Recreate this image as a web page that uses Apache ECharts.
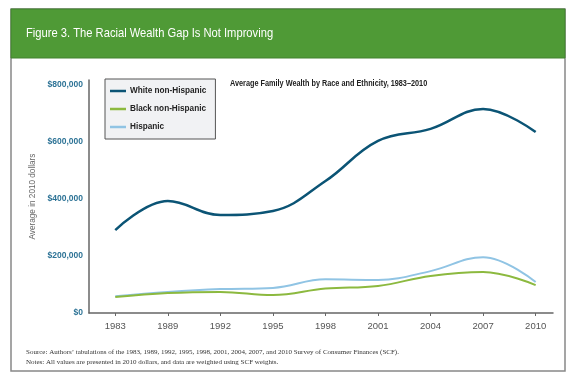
<!DOCTYPE html>
<html><head><meta charset="utf-8">
<script src="https://cdn.jsdelivr.net/npm/echarts@6/dist/echarts.min.js"></script>
<style>html,body{margin:0;padding:0;background:#fff}#c{width:585px;height:383px}</style>
</head><body><div id="c"></div>
<script>
var years = ['1983','1989','1992','1995','1998','2001','2004','2007','2010'];
var whiteNH = [291000, 393000, 344000, 358000, 463000, 604000, 646000, 716000, 635000];
var blackNH = [56000, 70000, 74000, 63000, 86000, 95000, 130000, 144000, 98000];
var hispanic = [59000, 74000, 84000, 88000, 118000, 116000, 147000, 196000, 109000];
var yTicks = [0, 200000, 400000, 600000, 800000];

var sans = "'Liberation Sans', Arial, sans-serif";
function pts(arr){ return arr.map(function(v,i){ return [i, v]; }); }
var idx = years.map(function(y,i){return i;});
var chart = echarts.init(document.getElementById('c'), null, {renderer:'canvas'});
chart.setOption({
  animation:false,
  backgroundColor:'#fff',
  grid:{left:89, right:32, top:80, bottom:70, containLabel:false},
  xAxis:{
    type:'value', min:-0.5, max:8.33,
    splitLine:{show:false},
    axisLine:{show:true, onZero:false, lineStyle:{color:'#666', width:1.5}},
    axisTick:{show:true, length:3, lineStyle:{color:'#666'}, customValues:idx},
    axisLabel:{customValues:idx, formatter:function(v){return years[Math.round(v)];},
      color:'#555', fontFamily:sans, fontSize:9.5, margin:8}
  },
  yAxis:{
    type:'value', min:0, max:817500,
    name:'Average in 2010 dollars', nameLocation:'middle', nameGap:52, nameMoveOverlap:false,
    nameTextStyle:{color:'#666', fontFamily:sans, fontSize:8.2},
    splitLine:{show:false},
    axisLine:{show:true, onZero:false, lineStyle:{color:'#666', width:1.5}},
    axisTick:{show:false},
    axisLabel:{customValues:yTicks, color:'#2d7396', fontWeight:'bold', fontFamily:sans, fontSize:8.5, margin:6,
      formatter:function(v){return '$'+v.toLocaleString('en-US');}}
  },
  legend:{
    orient:'vertical', left:105, top:79,
    backgroundColor:'#f1f2f4', borderColor:'#555', borderWidth:1,
    padding:[6,9,6,5], itemGap:6, itemWidth:16, itemHeight:2.5, icon:'rect',
    textStyle:{color:'#222', fontFamily:sans, fontWeight:'bold', fontSize:8.2, lineHeight:12, padding:[0,0,0,-1]},
    data:['White non-Hispanic','Black non-Hispanic','Hispanic']
  },
  series:[
    {name:'Hispanic', type:'line', data:pts(hispanic), smooth:0.4, showSymbol:false,
      lineStyle:{color:'#90c4e4', width:2}, itemStyle:{color:'#90c4e4'}},
    {name:'Black non-Hispanic', type:'line', data:pts(blackNH), smooth:0.4, showSymbol:false,
      lineStyle:{color:'#8cb93f', width:2}, itemStyle:{color:'#8cb93f'}},
    {name:'White non-Hispanic', type:'line', data:pts(whiteNH), smooth:0.4, showSymbol:false,
      lineStyle:{color:'#0b5475', width:2.5}, itemStyle:{color:'#0b5475'}}
  ],
  graphic:[
    {type:'rect', shape:{x:11, y:9, width:554, height:362}, style:{fill:'none', stroke:'#888', lineWidth:1.5}, z:-1},
    {type:'rect', shape:{x:11, y:9, width:554, height:49}, style:{fill:'#4f9a36', stroke:'#43822e', lineWidth:1}},
    {type:'text', x:26, y:33, scaleX:0.86, style:{text:'Figure 3. The Racial Wealth Gap Is Not Improving', fill:'#fff', font:'13px '+sans, verticalAlign:'middle'}},
    {type:'text', x:230, y:84, scaleX:0.81, style:{text:'Average Family Wealth by Race and Ethnicity, 1983–2010', fill:'#222', font:'bold 9px '+sans, verticalAlign:'middle'}},
    {type:'text', x:26, y:352, style:{text:'Source: Authors\u2019 tabulations of the 1983, 1989, 1992, 1995, 1998, 2001, 2004, 2007, and 2010 Survey of Consumer Finances (SCF).', fill:'#333', font:'7px "Liberation Serif", serif', verticalAlign:'middle'}},
    {type:'text', x:26, y:362, style:{text:'Notes: All values are presented in 2010 dollars, and data are weighted using SCF weights.', fill:'#333', font:'7px "Liberation Serif", serif', verticalAlign:'middle'}}
  ]
});
</script></body></html>
